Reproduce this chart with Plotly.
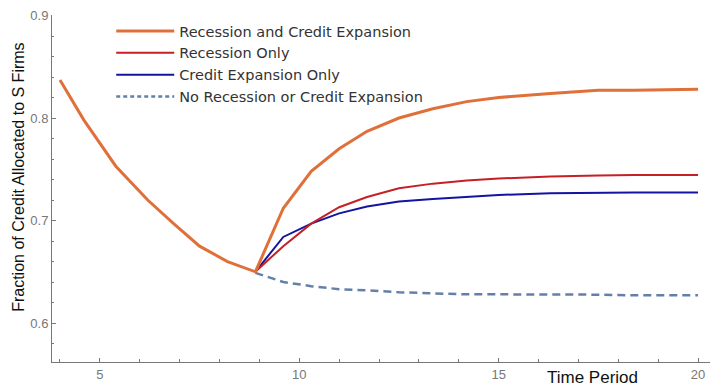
import plotly.graph_objects as go

# Pre-branch path (shared by all scenarios, drawn with the orange series)
time_pre = [4.0, 4.6, 5.4, 6.2, 6.85, 7.5, 8.2]
orange_pre = [0.837, 0.798, 0.753, 0.720, 0.697, 0.675, 0.660]

# Post-branch time periods
time_post = [8.9, 9.6, 10.3, 11.0, 11.7, 12.5, 13.35, 14.2, 15.0, 16.3, 17.5, 18.4, 20.0]
orange_post = [0.650, 0.712, 0.748, 0.770, 0.787, 0.800, 0.809, 0.816, 0.820, 0.824, 0.827, 0.827, 0.828]
red_post = [0.650, 0.675, 0.697, 0.713, 0.723, 0.7315, 0.736, 0.739, 0.741, 0.743, 0.744, 0.7445, 0.7445]
blue_post = [0.650, 0.684, 0.697, 0.707, 0.7137, 0.7185, 0.721, 0.723, 0.725, 0.7265, 0.727, 0.7273, 0.7273]
dash_post = [0.649, 0.640, 0.636, 0.633, 0.632, 0.630, 0.629, 0.628, 0.628, 0.628, 0.6277, 0.627, 0.627]

names = ["Recession and Credit Expansion", "Recession Only",
         "Credit Expansion Only", "No Recession or Credit Expansion"]

x_ticks = [5, 10, 15, 20]
y_ticks = [0.6, 0.7, 0.8, 0.9]

fig = go.Figure()
fig.add_trace(go.Scatter(x=time_post, y=dash_post, mode="lines", name=names[3],
                         line=dict(color="#6480A8", width=2.5, dash="8px,5px"), showlegend=False))
fig.add_trace(go.Scatter(x=time_post, y=blue_post, mode="lines", name=names[2],
                         line=dict(color="#1414A0", width=2), showlegend=False))
fig.add_trace(go.Scatter(x=time_post, y=red_post, mode="lines", name=names[1],
                         line=dict(color="#C42026", width=2), showlegend=False))
fig.add_trace(go.Scatter(x=time_pre + time_post, y=orange_pre + orange_post, mode="lines",
                         name=names[0], line=dict(color="#E0703A", width=3), showlegend=False))

# legend entries in reference order
leg_styles = [dict(color="#E0703A", width=3), dict(color="#C42026", width=2),
              dict(color="#1414A0", width=2), dict(color="#6480A8", width=2.5, dash="4px,3px")]
for nm, st in zip(names, leg_styles):
    fig.add_trace(go.Scatter(x=[None], y=[None], mode="lines", name=nm, line=st))

fig.update_layout(
    width=718, height=392,
    margin=dict(l=52, r=8, t=15, b=30, autoexpand=False),
    paper_bgcolor="white", plot_bgcolor="white",
    font=dict(family="Liberation Sans, Arial", size=13, color="#777777"),
    legend=dict(x=0.09, y=1.0, xanchor="left", yanchor="top",
                font=dict(family="DejaVu Sans", size=14.5, color="#333333"),
                bgcolor="rgba(0,0,0,0)", tracegroupgap=0, itemwidth=58),
    xaxis=dict(range=[3.8, 20.3], tickvals=x_ticks, ticks="inside", ticklen=4,
               tickcolor="#777777", showline=True, linecolor="#777777", linewidth=1,
               showgrid=False, zeroline=False,
               minor=dict(dtick=1, tick0=0, ticks="inside", ticklen=3, tickcolor="#777777")),
    yaxis=dict(range=[0.562, 0.9005], tickvals=y_ticks, ticktext=["0.6", "0.7", "0.8", "0.9"],
               ticks="inside", ticklen=4, tickcolor="#777777",
               showline=True, linecolor="#777777", linewidth=1, showgrid=False, zeroline=False,
               minor=dict(dtick=0.02, tick0=0, ticks="inside", ticklen=2, tickcolor="#777777")),
    annotations=[
        dict(text="Fraction of Credit Allocated to S Firms", xref="paper", yref="paper",
             x=-0.052, y=0.533, xanchor="center", yanchor="middle", textangle=-90,
             showarrow=False, font=dict(family="Liberation Sans, Arial", size=16, color="#111111")),
        dict(text="Time Period", xref="paper", yref="paper", x=0.822, y=-0.046,
             xanchor="center", yanchor="middle", showarrow=False,
             font=dict(family="Liberation Sans Narrow, Liberation Sans, Arial", size=17, color="#111111")),
    ],
)

fig.write_html("out.html", config={"displayModeBar": False},
               post_script="document.body.style.margin='0';document.body.style.overflow='hidden';")
